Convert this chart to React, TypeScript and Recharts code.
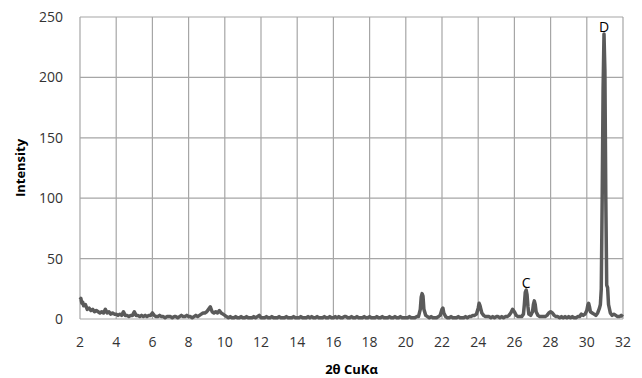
import React from 'react';
import { LineChart, Line, XAxis, YAxis, CartesianGrid, ReferenceDot } from 'recharts';

// 2θ (degrees) and intensity
const scan: [number, number][] = [
  [2.0, 16], [2.05, 17], [2.1, 13], [2.15, 14], [2.2, 11], [2.3, 12], [2.4, 8], [2.5, 9], [2.6, 7], [2.7, 8],
  [2.8, 6], [2.9, 7], [3.0, 6], [3.1, 5], [3.2, 6], [3.3, 5], [3.4, 8], [3.5, 5], [3.6, 6], [3.7, 4],
  [3.8, 5], [3.9, 4], [4.0, 4], [4.1, 3], [4.2, 4], [4.3, 3], [4.4, 6], [4.5, 3], [4.6, 3], [4.7, 2],
  [4.8, 3], [4.9, 3], [5.0, 6], [5.1, 3], [5.2, 3], [5.3, 2], [5.4, 3], [5.5, 2], [5.6, 3], [5.7, 2],
  [5.8, 3], [5.9, 3], [6.0, 5], [6.1, 3], [6.2, 2], [6.3, 2], [6.4, 3], [6.5, 2], [6.6, 2], [6.7, 1],
  [6.8, 2], [6.9, 2], [7.0, 2], [7.1, 1], [7.2, 2], [7.3, 2], [7.4, 1], [7.5, 2], [7.6, 3], [7.7, 2],
  [7.8, 2], [7.9, 3], [8.0, 2], [8.1, 2], [8.2, 1], [8.3, 2], [8.4, 3], [8.5, 2], [8.6, 3], [8.7, 4],
  [8.8, 5], [8.9, 5], [9.0, 6], [9.1, 8], [9.2, 10], [9.3, 6], [9.4, 5], [9.5, 6], [9.6, 5], [9.7, 7],
  [9.8, 5], [9.9, 4], [10.0, 3], [10.1, 2], [10.2, 1], [10.3, 2], [10.4, 1], [10.5, 1], [10.6, 2], [10.7, 1],
  [10.8, 1], [10.9, 2], [11.0, 1], [11.1, 1], [11.2, 2], [11.3, 1], [11.4, 1], [11.5, 1], [11.6, 2], [11.7, 1],
  [11.8, 2], [11.9, 3], [12.0, 1], [12.1, 1], [12.2, 1], [12.3, 2], [12.4, 1], [12.5, 1], [12.6, 2], [12.7, 1],
  [12.8, 1], [12.9, 1], [13.0, 2], [13.1, 1], [13.2, 1], [13.3, 1], [13.4, 2], [13.5, 1], [13.6, 1], [13.7, 1],
  [13.8, 2], [13.9, 1], [14.0, 1], [14.1, 1], [14.2, 2], [14.3, 1], [14.4, 1], [14.5, 1], [14.6, 2], [14.7, 1],
  [14.8, 2], [14.9, 1], [15.0, 1], [15.1, 2], [15.2, 1], [15.3, 1], [15.4, 1], [15.5, 2], [15.6, 1], [15.7, 1],
  [15.8, 2], [15.9, 1], [16.0, 1], [16.1, 2], [16.2, 1], [16.3, 2], [16.4, 1], [16.5, 1], [16.6, 2], [16.7, 2],
  [16.8, 1], [16.9, 1], [17.0, 2], [17.1, 1], [17.2, 1], [17.3, 2], [17.4, 1], [17.5, 1], [17.6, 1], [17.7, 2],
  [17.8, 1], [17.9, 1], [18.0, 2], [18.1, 1], [18.2, 1], [18.3, 1], [18.4, 2], [18.5, 1], [18.6, 1], [18.7, 2],
  [18.8, 1], [18.9, 1], [19.0, 1], [19.1, 2], [19.2, 1], [19.3, 1], [19.4, 2], [19.5, 1], [19.6, 1], [19.7, 2],
  [19.8, 1], [19.9, 1], [20.0, 1], [20.1, 1], [20.2, 2], [20.3, 1], [20.4, 1], [20.5, 1], [20.6, 2], [20.7, 2],
  [20.8, 8], [20.85, 18], [20.9, 21], [20.95, 19], [21.0, 8], [21.1, 3], [21.2, 2], [21.3, 1], [21.4, 2], [21.5, 1],
  [21.6, 1], [21.7, 1], [21.8, 2], [21.9, 3], [22.0, 8], [22.05, 9], [22.1, 5], [22.2, 2], [22.3, 1], [22.4, 1],
  [22.5, 2], [22.6, 1], [22.7, 1], [22.8, 1], [22.9, 2], [23.0, 1], [23.1, 1], [23.2, 1], [23.3, 2], [23.4, 1],
  [23.5, 2], [23.6, 2], [23.7, 3], [23.8, 3], [23.9, 4], [24.0, 9], [24.05, 13], [24.1, 11], [24.2, 5], [24.3, 3],
  [24.4, 2], [24.5, 2], [24.6, 2], [24.7, 1], [24.8, 2], [24.9, 1], [25.0, 2], [25.1, 2], [25.2, 1], [25.3, 2],
  [25.4, 1], [25.5, 2], [25.6, 2], [25.7, 3], [25.8, 5], [25.9, 8], [26.0, 6], [26.1, 3], [26.2, 2], [26.3, 2],
  [26.4, 2], [26.5, 4], [26.55, 12], [26.6, 22], [26.65, 24], [26.7, 20], [26.75, 10], [26.8, 4], [26.9, 3], [27.0, 6],
  [27.05, 12], [27.1, 15], [27.15, 12], [27.2, 6], [27.3, 3], [27.4, 2], [27.5, 2], [27.6, 2], [27.7, 2], [27.8, 3],
  [27.9, 5], [28.0, 6], [28.1, 5], [28.2, 3], [28.3, 2], [28.4, 2], [28.5, 1], [28.6, 2], [28.7, 1], [28.8, 2],
  [28.9, 1], [29.0, 2], [29.1, 1], [29.2, 2], [29.3, 1], [29.4, 1], [29.5, 2], [29.6, 2], [29.7, 4], [29.8, 3],
  [29.9, 4], [30.0, 7], [30.05, 11], [30.1, 13], [30.15, 10], [30.2, 6], [30.3, 5], [30.4, 4], [30.5, 3], [30.6, 5],
  [30.7, 9], [30.75, 12], [30.8, 25], [30.85, 100], [30.9, 190], [30.95, 236], [31.0, 205], [31.05, 100], [31.1, 28], [31.15, 26],
  [31.2, 12], [31.3, 5], [31.4, 3], [31.5, 4], [31.6, 3], [31.7, 2], [31.8, 2], [31.9, 3], [32.0, 2],
];

const xTicks = [2, 4, 6, 8, 10, 12, 14, 16, 18, 20, 22, 24, 26, 28, 30, 32];
const yTicks = [0, 50, 100, 150, 200, 250];

const peakLabels = [
  { name: 'C', x: 26.65, y: 24 },
  { name: 'D', x: 30.95, y: 236 },
];

const data = scan.map(([t, i]) => ({ t, i }));

const FONT = '"Open Sans", sans-serif';

export default function App() {
  return (
    <div style={{ position: 'absolute', left: 0, top: 0, width: 642, height: 378, background: '#fff' }}>
      <LineChart width={642} height={378} data={data} margin={{ top: 17, right: 19, left: 0, bottom: 0 }}>
        <CartesianGrid stroke="#a6a6a6" strokeWidth={1.2} />
        <XAxis
          dataKey="t"
          type="number"
          domain={[2, 32]}
          ticks={xTicks}
          interval={0}
          axisLine={false}
          tickLine={false}
          tickMargin={12}
          height={59}
          tick={{ fill: '#333', fontSize: 14, fontFamily: FONT }}
          label={{ value: '2θ CuKα', position: 'insideBottom', offset: 4, fill: '#000', fontSize: 13, fontWeight: 700, fontFamily: FONT }}
        />
        <YAxis
          type="number"
          domain={[0, 250]}
          ticks={yTicks}
          interval={0}
          axisLine={false}
          tickLine={false}
          tickMargin={11}
          width={80}
          tick={{ fill: '#333', fontSize: 14, fontFamily: FONT }}
          label={{ value: 'Intensity', angle: -90, position: 'insideLeft', offset: 20, fill: '#000', fontSize: 13, fontWeight: 700, fontFamily: FONT, style: { textAnchor: 'middle' } }}
        />
        <Line
          type="linear"
          dataKey="i"
          stroke="#5a5a5a"
          strokeWidth={3.5}
          strokeLinejoin="round"
          dot={false}
          isAnimationActive={false}
        />
        {peakLabels.map((p) => (
          <ReferenceDot
            key={p.name}
            x={p.x}
            y={p.y}
            r={0}
            fill="none"
            stroke="none"
            label={{ value: p.name, position: 'top', offset: 2, fill: '#000', fontSize: 14, fontFamily: FONT }}
          />
        ))}
      </LineChart>
    </div>
  );
}
